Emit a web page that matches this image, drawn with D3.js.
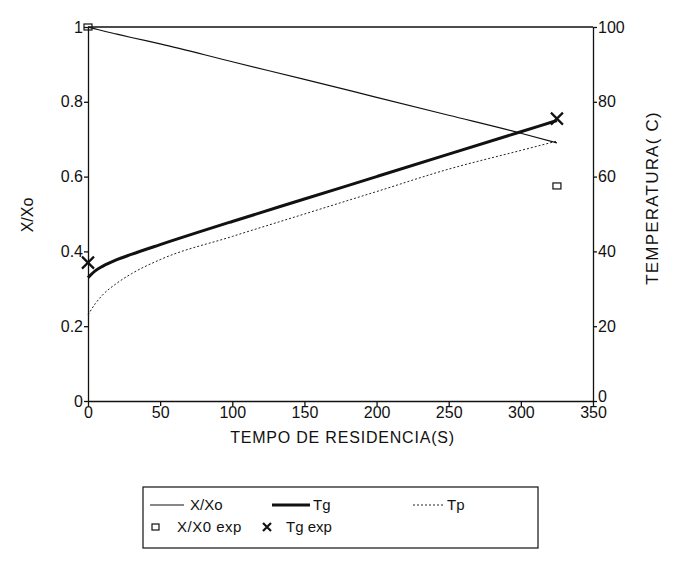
<!DOCTYPE html>
<meta charset="utf-8">
<title>X/Xo e temperatura</title>
<style>
body { margin: 0; background: #fff; }
text { font-family: "Liberation Sans", Arial, sans-serif; fill: #111; }
.axis path, .axis line { stroke: #111; stroke-width: 1.3; }
.axis text { font-size: 16px; }
</style>
<body>
<svg width="674" height="581"></svg>
<script src="https://d3js.org/d3.v7.min.js"></script>
<script>

// tempo de residencia (s)
var tempo = [0, 5, 10, 20, 30, 50, 100, 150, 200, 250, 300, 325];
var xxo   = [1.0, 0.995, 0.99, 0.981, 0.972, 0.955, 0.907, 0.86, 0.812, 0.764, 0.716, 0.69];
var tg    = [33, 34.8, 36, 37.8, 39.2, 41.8, 48, 54, 60, 66, 72, 75];
var tp    = [23, 26, 28.3, 31.5, 34, 37.8, 44, 50, 56, 62, 67, 69.5];
// pontos experimentais
var xxoExpT = [0, 325], xxoExp = [1.0, 0.575];
var tgExpT  = [0, 325], tgExp  = [37, 75.5];

var xTicks = [0, 50, 100, 150, 200, 250, 300, 350];
var yTicks = [0, 0.2, 0.4, 0.6, 0.8, 1];
var tTicks = [0, 20, 40, 60, 80, 100];

var svg = d3.select("svg");
var mLeft = 88, mRight = 593, mTop = 27, mBottom = 401;

var x = d3.scaleLinear().domain([0, 350]).range([mLeft, mRight]);
var y = d3.scaleLinear().domain([0, 1]).range([mBottom, mTop]);
var yt = d3.scaleLinear().domain([0, 100]).range([mBottom, mTop]);

// top frame line
svg.append("line")
    .attr("x1", x(0)).attr("x2", x(350))
    .attr("y1", y(1)).attr("y2", y(1))
    .attr("stroke", "#111").attr("stroke-width", 1.3);

svg.append("g").attr("class", "axis")
    .attr("transform", "translate(0," + mBottom + ")")
    .call(d3.axisBottom(x).tickValues(xTicks).tickSize(5).tickSizeOuter(0).tickPadding(1).tickFormat(d3.format("d")));

svg.append("g").attr("class", "axis")
    .attr("transform", "translate(" + mLeft + ",0)")
    .call(d3.axisLeft(y).tickValues(yTicks).tickSize(4).tickSizeOuter(0).tickPadding(1).tickFormat(function(d) { return d === 0 || d === 1 ? d : d.toFixed(1); }));

var rAxis = svg.append("g").attr("class", "axis")
    .attr("transform", "translate(" + mRight + ",0)")
    .call(d3.axisRight(yt).tickValues(tTicks).tickSize(4).tickSizeOuter(0).tickPadding(1));
// lift the "0" so it clears the 350 label
rAxis.selectAll(".tick").filter(function(d) { return d === 0; }).select("text").attr("dy", "0.05em");

svg.selectAll(".axis .domain").attr("stroke-width", 1.5);

// titles
svg.append("text")
    .attr("x", (mLeft + mRight) / 2 + 2).attr("y", 443)
    .attr("text-anchor", "middle").style("font-size", "16px").style("letter-spacing", "0.8px")
    .text("TEMPO DE RESIDENCIA(S)");
svg.append("text")
    .attr("transform", "translate(33,215) rotate(-90)")
    .attr("text-anchor", "middle").style("font-size", "16px")
    .text("X/Xo");
svg.append("text")
    .attr("transform", "translate(658,198) rotate(-90)")
    .attr("text-anchor", "middle").style("font-size", "17px").style("letter-spacing", "1.2px")
    .text("TEMPERATURA( C)");

// curves
function curve(ys, scale) {
    return d3.line()
        .x(function(d, i) { return x(tempo[i]); })
        .y(function(d) { return scale(d); })
        .curve(d3.curveMonotoneX)(ys);
}

svg.append("path").attr("d", curve(xxo, y))
    .attr("fill", "none").attr("stroke", "#111").attr("stroke-width", 1.2);
svg.append("path").attr("d", curve(tg, yt))
    .attr("fill", "none").attr("stroke", "#111").attr("stroke-width", 3);
svg.append("path").attr("d", curve(tp, yt))
    .attr("fill", "none").attr("stroke", "#222").attr("stroke-width", 1)
    .attr("stroke-dasharray", "2,2");

// experimental markers
svg.selectAll(".sq").data(xxoExp).enter().append("rect")
    .attr("x", function(d, i) { return x(xxoExpT[i]) - 4; })
    .attr("y", function(d) { return y(d) - 3; })
    .attr("width", 8).attr("height", 6)
    .attr("fill", "none").attr("stroke", "#111").attr("stroke-width", 1.2);

function cross(g, cx, cy, s) {
    g.append("path")
        .attr("d", "M" + (cx - s) + "," + (cy - s) + "L" + (cx + s) + "," + (cy + s) +
                   "M" + (cx - s) + "," + (cy + s) + "L" + (cx + s) + "," + (cy - s))
        .attr("stroke", "#111").attr("stroke-width", 2.2).attr("fill", "none");
}
tgExp.forEach(function(d, i) { cross(svg, x(tgExpT[i]), yt(d), 6); });

// legend
var lg = svg.append("g");
lg.append("rect")
    .attr("x", 143).attr("y", 487).attr("width", 395).attr("height", 61)
    .attr("fill", "none").attr("stroke", "#111").attr("stroke-width", 1.2);

var row1 = 505, row2 = 527;
lg.append("line").attr("x1", 150).attr("x2", 184).attr("y1", row1).attr("y2", row1)
    .attr("stroke", "#111").attr("stroke-width", 1.2);
lg.append("text").attr("x", 190).attr("y", row1 + 5).style("font-size", "15px").text("X/Xo");
lg.append("line").attr("x1", 272).attr("x2", 310).attr("y1", row1).attr("y2", row1)
    .attr("stroke", "#111").attr("stroke-width", 3);
lg.append("text").attr("x", 313).attr("y", row1 + 5).style("font-size", "15px").text("Tg");
lg.append("line").attr("x1", 413).attr("x2", 443).attr("y1", row1).attr("y2", row1)
    .attr("stroke", "#222").attr("stroke-width", 1).attr("stroke-dasharray", "2,2");
lg.append("text").attr("x", 447).attr("y", row1 + 5).style("font-size", "15px").text("Tp");

lg.append("rect").attr("x", 152).attr("y", row2 - 3).attr("width", 7).attr("height", 6)
    .attr("fill", "none").attr("stroke", "#111").attr("stroke-width", 1.2);
lg.append("text").attr("x", 177).attr("y", row2 + 5).style("font-size", "15px").style("letter-spacing", "0.5px").text("X/X0 exp");
cross(lg, 267, row2, 4);
lg.append("text").attr("x", 286).attr("y", row2 + 5).style("font-size", "15px").text("Tg exp");

</script>
</body>
